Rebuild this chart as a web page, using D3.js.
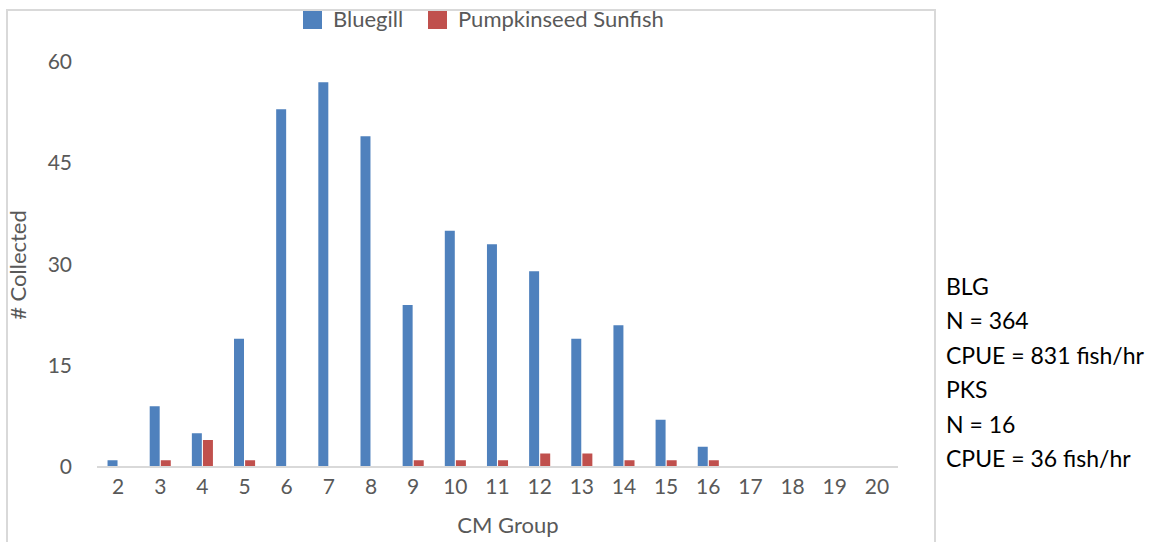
<!DOCTYPE html>
<html>
<head>
<meta charset="utf-8">
<script src="https://cdn.jsdelivr.net/npm/d3@7"></script>
<style>
  body { margin: 0; background: #fff; }
  text { font-family: Lato, "Open Sans", sans-serif; }
</style>
</head>
<body>
<div id="chart"></div>
<script>
// Data
const groups = ["2","3","4","5","6","7","8","9","10","11","12","13","14","15","16","17","18","19","20"];
const bluegill = [1, 9, 5, 19, 53, 57, 49, 24, 35, 33, 29, 19, 21, 7, 3, 0, 0, 0, 0];
const pumpkinseed = [0, 1, 4, 1, 0, 0, 0, 1, 1, 1, 2, 2, 1, 1, 1, 0, 0, 0, 0];
const seriesNames = ["Bluegill", "Pumpkinseed Sunfish"];
const seriesColors = ["#4F81BD", "#C0504D"];
const yTicks = [0, 15, 30, 45, 60];
const notes = ["BLG", "N = 364", "CPUE = 831 fish/hr", "PKS", "N = 16", "CPUE = 36 fish/hr"];

const width = 1152, height = 542;
const plot = { left: 97, right: 898, top: 62, bottom: 467 };

const svg = d3.select("#chart").append("svg")
  .attr("width", width).attr("height", height);

// outer chart frame
svg.append("rect")
  .attr("x", 7).attr("y", 10)
  .attr("width", 928).attr("height", 540)
  .attr("fill", "none").attr("stroke", "#d9d9d9").attr("stroke-width", 2);

// Scales
const xScale = d3.scaleBand().domain(groups).range([plot.left, plot.right]).paddingInner(0.5).paddingOuter(0.25);
const xSub = d3.scaleBand().domain(seriesNames).range([0, xScale.bandwidth()]).paddingInner(0.1);
const yScale = d3.scaleLinear().domain([0, 60]).range([plot.bottom, plot.top]);

// Bars
const rows = groups.map((g, i) => ({ g, vals: [bluegill[i], pumpkinseed[i]] }));
svg.append("g").selectAll("g")
  .data(rows)
  .join("g")
  .attr("transform", d => `translate(${xScale(d.g)},0)`)
  .selectAll("rect")
  .data(d => d.vals.map((v, k) => ({ v, k })))
  .join("rect")
  .attr("x", d => xSub(seriesNames[d.k]))
  .attr("width", xSub.bandwidth())
  .attr("y", d => yScale(d.v))
  .attr("height", d => yScale(0) - yScale(d.v))
  .attr("fill", d => seriesColors[d.k]);

// Y axis
const yAxis = svg.append("g")
  .attr("transform", `translate(${plot.left - 25},0)`)
  .call(d3.axisLeft(yScale).tickValues(yTicks).tickSize(0).tickPadding(0));
yAxis.select(".domain").remove();
yAxis.selectAll("text").style("font-size", "21px").attr("fill", "#595959");

// X axis
const xAxis = svg.append("g")
  .attr("transform", `translate(0,${plot.bottom})`)
  .call(d3.axisBottom(xScale).tickSize(0).tickPadding(12));
xAxis.select(".domain").attr("stroke", "#d9d9d9").attr("stroke-width", 2)
  .attr("d", `M${plot.left},0H${plot.right}`);
xAxis.selectAll("text").style("font-size", "21px").attr("fill", "#595959");

// Axis titles
svg.append("text")
  .attr("x", 508).attr("y", 527)
  .attr("text-anchor", "middle").attr("dominant-baseline", "middle")
  .style("font-size", "22px").attr("fill", "#595959")
  .text("CM Group");

svg.append("text")
  .attr("transform", "translate(20,265) rotate(-90)")
  .attr("text-anchor", "middle").attr("dominant-baseline", "middle")
  .style("font-size", "22px").attr("fill", "#595959")
  .text("# Collected");

// Legend
const legendX = [303, 428];
const legend = svg.append("g").selectAll("g")
  .data(seriesNames)
  .join("g")
  .attr("transform", (d, i) => `translate(${legendX[i]},11)`);
legend.append("rect").attr("width", 19).attr("height", 18).attr("fill", (d, i) => seriesColors[i]);
legend.append("text")
  .attr("x", 30).attr("y", 10)
  .attr("dominant-baseline", "middle")
  .style("font-size", "22px").attr("fill", "#595959")
  .text(d => d);

// Notes on the right
svg.append("g").selectAll("text")
  .data(notes)
  .join("text")
  .attr("x", 946)
  .attr("y", (d, i) => 289 + i * 34.5)
  .attr("dominant-baseline", "middle")
  .style("font-size", "23px").attr("fill", "#000")
  .text(d => d);
</script>
</body>
</html>
